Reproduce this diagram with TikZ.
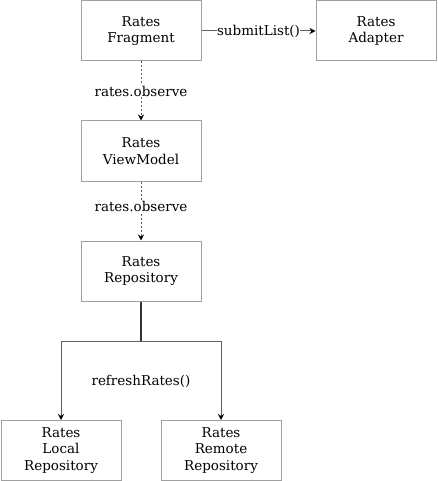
\documentclass[tikz,border=0pt]{standalone}
\usepackage{fontspec}
\setmainfont{DejaVu Serif}
\usetikzlibrary{arrows.meta}
\definecolor{boxgray}{HTML}{A0A0A0}
\definecolor{linegray}{HTML}{606060}
\begin{document}
\begin{tikzpicture}[x=1pt, y=-1pt,
  box/.style={draw=boxgray, line width=1pt, minimum width=120pt, minimum height=60pt, align=center, font=\fontsize{13.5}{16.5}\selectfont, inner sep=0pt},
  lbl/.style={font=\fontsize{13.5}{16.5}\selectfont, fill=white, inner sep=0.5pt},
  conn/.style={draw=linegray, line width=1pt, -{Stealth[length=6pt, width=6pt, black]}},
  dots/.style={conn, dash pattern=on 2pt off 2pt}]
\useasboundingbox (0,0) rectangle (437,481);
\node[box] (frag) at (141,31){Rates\\Fragment};
\node[box] (adapter) at (376,31){Rates\\Adapter};
\node[box] (vm) at (141,151){Rates\\ViewModel};
\node[box] (repo) at (141,271){Rates\\Repository};
\node[box] (local) at (61,450.5){Rates\\Local\\Repository};
\node[box] (remote) at (221,450.5){Rates\\Remote\\Repository};
\coordinate (bus) at (141,341);
\draw[conn](frag) -- node[lbl]{submitList()} (adapter);
\draw[dots](frag) -- node[lbl, pos=0.5]{rates.observe} (vm);
\draw[dots](vm) -- node[lbl, pos=0.43]{rates.observe} (repo);
\draw[line width=1.3pt, black!80](repo) -- (bus);
\draw[conn](bus) -| (local);
\draw[conn](bus) -| (remote);
\node[lbl] (refresh) at (141,381){refreshRates()};
\end{tikzpicture}
\end{document}
